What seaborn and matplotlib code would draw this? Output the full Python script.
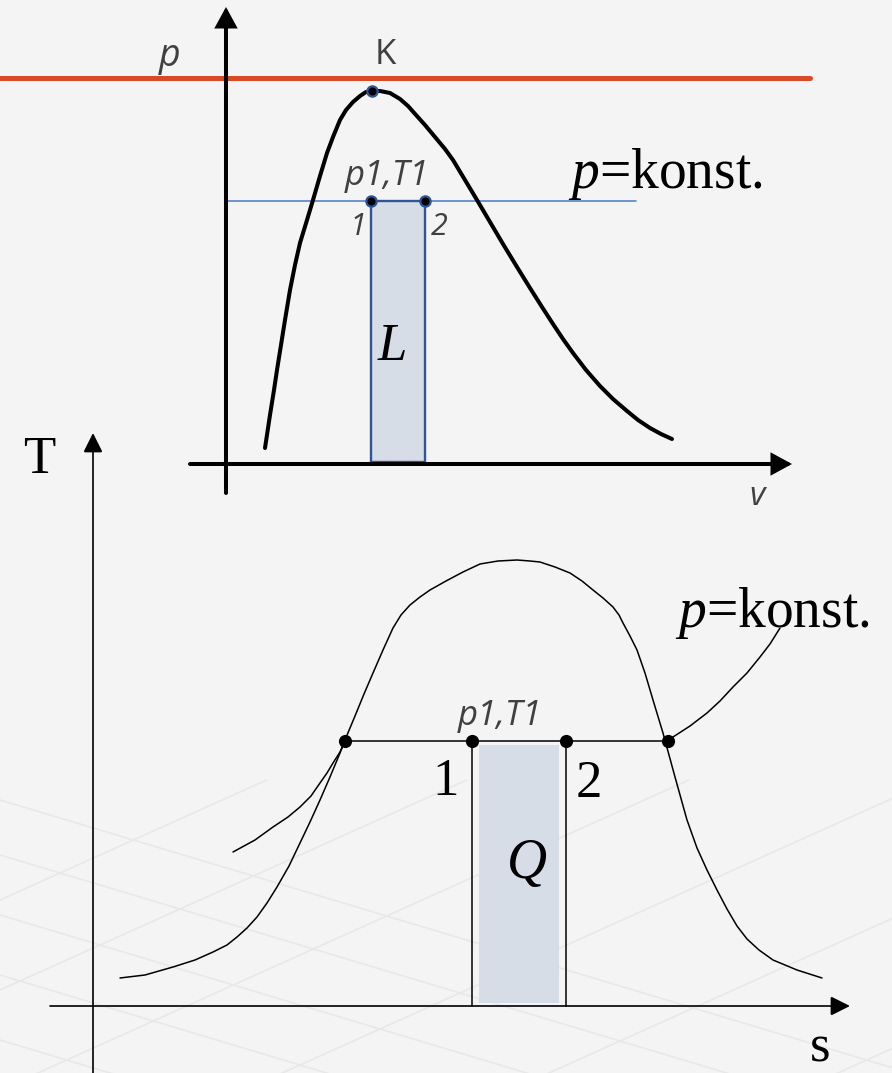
import matplotlib
matplotlib.use("Agg")
import matplotlib.pyplot as plt
import pandas as pd
import seaborn as sns

sns.set_theme(style="white")
plt.rcParams["font.family"] = ["DejaVu Sans"]
plt.rcParams["mathtext.fontset"] = "custom"
plt.rcParams["mathtext.it"] = "Liberation Serif:italic"
plt.rcParams["mathtext.rm"] = "Liberation Serif"

BG = "#f4f4f4"
GREY = "#404040"
SANS_IT = dict(family="Open Sans", style="italic", color=GREY)
SERIF = dict(family="Liberation Serif", color="black")

# ---- p-v diagram (canvas units, y grows downward) ----
pv_dome_v = [265, 270, 274, 277, 281, 285, 290, 295, 300, 307, 313, 320, 327, 333,
             340, 346, 353, 360, 366, 372, 380, 390, 400, 408, 416, 425, 435, 445,
             453, 465, 477, 490, 503, 517, 530, 542, 553, 563, 573, 586, 600, 613,
             627, 638, 650, 661, 672]
pv_dome_p = [448, 415, 390, 370, 345, 320, 290, 265, 243, 220, 200, 176, 153, 137,
             120, 110, 102, 96, 92, 91, 91, 93, 99, 106, 115, 125, 137, 149,
             160, 180, 200, 222, 244, 267, 288, 307, 324, 339, 353, 370, 386, 399,
             411, 420, 428, 434, 439]
pv_crit = (372, 91)
pv_isobar_p = 201
pv_isobar_v = [226, 636]
pv_state_v = [371, 425]
pv_base_p = 462
pv_red_p = 78
pv_red_v = [0, 810]

# ---- T-s diagram ----
ts_dome_s = [120, 145, 173, 195, 213, 227, 237, 247, 257, 267, 277, 289, 300, 310,
             320, 330, 340, 345, 355, 364, 373, 383, 393, 401, 410, 420, 430, 446,
             463, 480, 498, 517, 530, 540, 555, 570, 582, 593, 603, 613, 619, 623,
             630, 637, 645, 653, 663, 675, 687, 697, 707, 717, 727, 737, 747, 759,
             773, 797, 822]
ts_dome_T = [978, 975, 967, 960, 952, 945, 937, 928, 917, 903, 887, 866, 843, 822,
             800, 777, 753, 740, 716, 694, 673, 650, 628, 615, 605, 597, 590, 581,
             572, 564, 561, 560, 561, 562, 567, 573, 581, 590, 598, 607, 615, 623,
             636, 650, 673, 700, 733, 777, 820, 848, 870, 890, 909, 926, 939, 950,
             960, 970, 978]
ts_isobar_left_s = [233, 255, 273, 288, 300, 311, 320, 327, 333, 340, 345]
ts_isobar_left_T = [852, 840, 827, 817, 807, 796, 783, 773, 763, 752, 741]
ts_isobar_right_s = [668, 673, 690, 707, 720, 733, 747, 760, 770, 780]
ts_isobar_right_T = [741, 737, 726, 713, 701, 687, 673, 657, 644, 628]
ts_T1 = 741
ts_sat_s = [345, 668]
ts_state_s = [472, 566]
ts_base_T = 1006

# faint floor grid behind the lower diagram
floor_rows = [800, 855, 915, 975, 1040]
floor_cols = [900, 990, 1090, 1200, 1320, 1450]

fig = plt.figure(figsize=(8.92, 10.73), dpi=100, facecolor=BG)
ax = fig.add_axes([0, 0, 1, 1])
ax.set_facecolor(BG)
ax.set_xlim(0, 892)
ax.set_ylim(1073, 0)
ax.axis("off")


def curve(xs, ys, **kw):
    sns.lineplot(data=pd.DataFrame({"x": xs, "y": ys}), x="x", y="y", sort=False,
                 estimator=None, ax=ax, legend=False, **kw)


def arrow_axis(start, tip, lw, hl, hw):
    ax.annotate("", xy=tip, xytext=start,
                arrowprops=dict(arrowstyle=f"-|>,head_length={hl},head_width={hw}",
                                lw=lw, color="black", shrinkA=0, shrinkB=0,
                                mutation_scale=20, joinstyle="miter"))


# ===== background floor grid =====
for y0 in floor_rows:
    curve([0, 892], [y0, y0 + 0.3 * 892], color="#e8e8e8", lw=1.2, zorder=0)
for y0 in floor_cols:
    x_end = min(892, (y0 - 780) / 0.45)
    curve([0, x_end], [y0, y0 - 0.45 * x_end], color="#e8e8e8", lw=1.2, zorder=0)

# ===== p-v diagram =====
ax.fill_between(pv_state_v, [pv_isobar_p] * 2, [pv_base_p] * 2, color="#d6dde7", lw=0, zorder=1)
curve([pv_state_v[0], pv_state_v[0], pv_state_v[1], pv_state_v[1], pv_state_v[0]],
      [pv_base_p, pv_isobar_p, pv_isobar_p, pv_base_p, pv_base_p],
      color="#2f5597", lw=1.7, zorder=3)

arrow_axis((226, 493), (226, 7), 2.9, 0.55, 0.3)
arrow_axis((190, 464), (792, 464), 2.9, 0.55, 0.3)

curve(pv_red_v, [pv_red_p] * 2, color="#d84a28", lw=3.6, zorder=2)
curve(pv_isobar_v, [pv_isobar_p] * 2, color="#4a78c8", lw=1.1, zorder=2)
curve(pv_dome_v, pv_dome_p, color="black", lw=2.9, zorder=4)

sns.scatterplot(x=[pv_crit[0]] + pv_state_v, y=[pv_crit[1], pv_isobar_p, pv_isobar_p],
                s=55, color="black", edgecolor="#2f5597", linewidth=1.6, ax=ax,
                zorder=5, legend=False)

ax.text(170, 66, "p", fontsize=27, ha="center", va="baseline", **SANS_IT)
ax.text(385, 64, "K", fontsize=25, ha="center", va="baseline",
        family="Open Sans", color=GREY)
ax.text(387, 185, "p1,T1", fontsize=25, ha="center", va="baseline", **SANS_IT)
ax.text(358, 235, "1", fontsize=22, ha="center", va="baseline", **SANS_IT)
ax.text(439, 235, "2", fontsize=22, ha="center", va="baseline", **SANS_IT)
ax.text(757, 505, "v", fontsize=24, ha="center", va="baseline", **SANS_IT)
ax.text(392, 360, "L", fontsize=38, ha="center", va="baseline",
        family="Liberation Serif", style="italic", color="black")
ax.text(568, 188, r"$p$=konst.", fontsize=40, ha="left", va="baseline", **SERIF)

# ===== T-s diagram =====
ax.fill_between([479, 559], [745] * 2, [1003] * 2, color="#d6dde7", lw=0, zorder=1)

arrow_axis((93, 1073), (93, 433), 1.2, 0.6, 0.3)
arrow_axis((50, ts_base_T), (850, ts_base_T), 1.2, 0.6, 0.3)

curve(ts_dome_s, ts_dome_T, color="black", lw=1.1, zorder=3)
curve(ts_isobar_left_s, ts_isobar_left_T, color="black", lw=1.1, zorder=3)
curve(ts_isobar_right_s, ts_isobar_right_T, color="black", lw=1.1, zorder=3)
curve(ts_sat_s, [ts_T1] * 2, color="black", lw=1.1, zorder=3)
for s in ts_state_s:
    curve([s, s], [ts_T1, ts_base_T], color="black", lw=1.1, zorder=3)

sns.scatterplot(x=[ts_sat_s[0]] + ts_state_s + [ts_sat_s[1]], y=[ts_T1] * 4,
                s=90, color="black", edgecolor="black", linewidth=0, ax=ax,
                zorder=5, legend=False)

ax.text(39, 473, "T", fontsize=38, ha="center", va="baseline", **SERIF)
ax.text(820, 1062, "s", fontsize=38, ha="center", va="baseline", **SERIF)
ax.text(500, 725, "p1,T1", fontsize=25, ha="center", va="baseline", **SANS_IT)
ax.text(446, 795, "1", fontsize=38, ha="center", va="baseline", **SERIF)
ax.text(589, 797, "2", fontsize=38, ha="center", va="baseline", **SERIF)
ax.text(527, 878, "Q", fontsize=40, ha="center", va="baseline",
        family="Liberation Serif", style="italic", color="black")
ax.text(675, 627, r"$p$=konst.", fontsize=40, ha="left", va="baseline", **SERIF)

fig.savefig("out.png", dpi=100, facecolor=BG)
